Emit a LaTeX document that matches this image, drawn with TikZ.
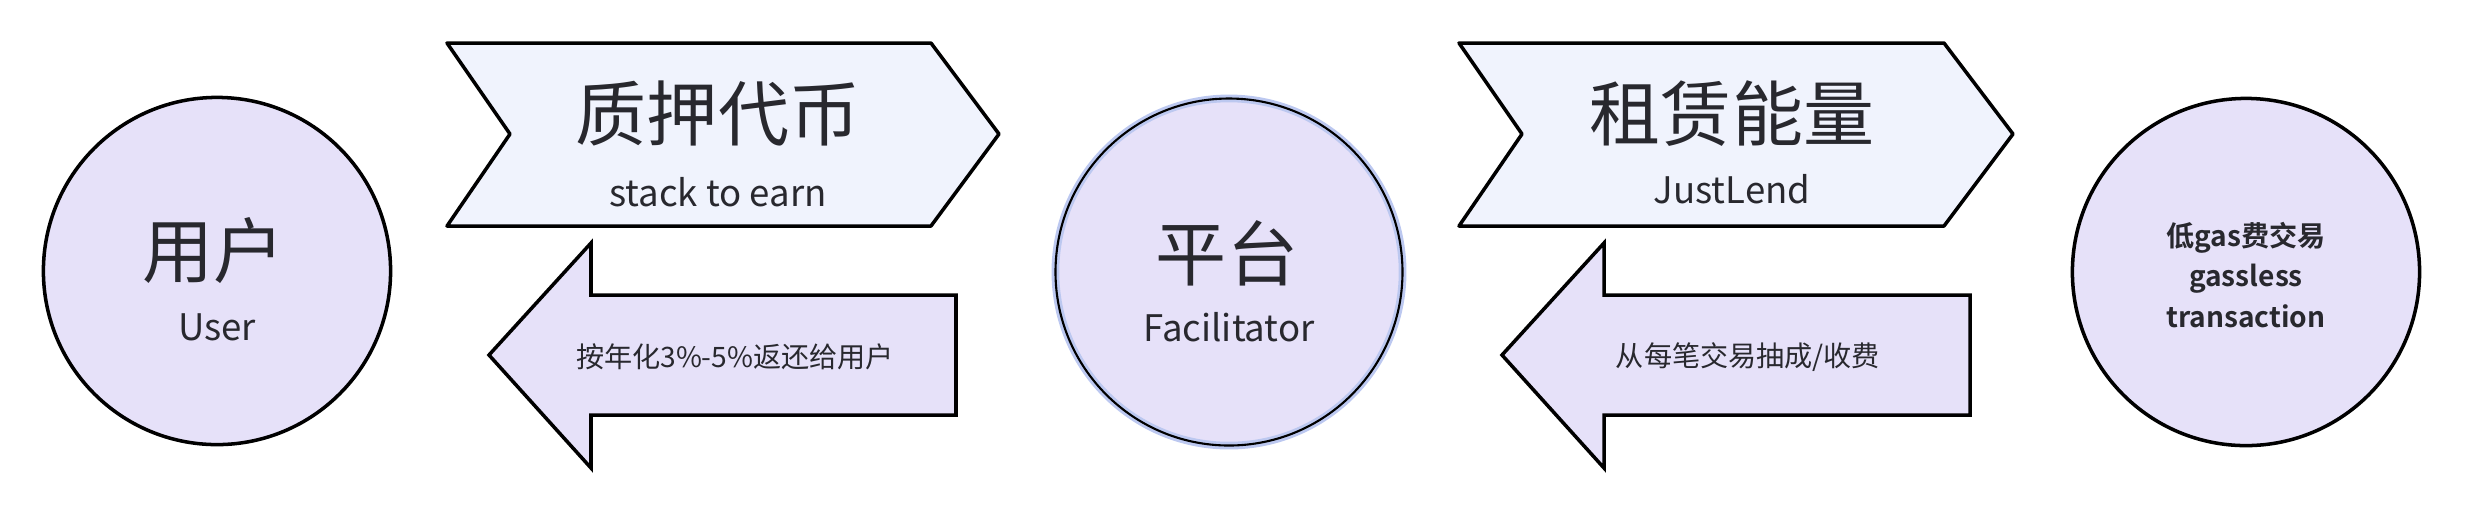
\documentclass[tikz,border=0pt]{standalone}
\usepackage{fontspec}
\setmainfont{Noto Sans CJK SC}[BoldFont={Noto Sans CJK SC Bold}]
\definecolor{mlav}{RGB}{230,225,249}
\definecolor{mpale}{RGB}{240,243,253}
\definecolor{mhalo}{RGB}{188,200,240}
\definecolor{mtext}{RGB}{40,40,46}
\usetikzlibrary{positioning}

\begin{document}
\begin{tikzpicture}[x=0.01cm, y=-0.01cm,
    disc/.style={circle, draw, line width=1pt, fill=mlav, minimum size=3.47cm, inner sep=0pt},
    chev/.style={draw, line width=1pt, line join=round, fill=mpale},
    back/.style={draw, line width=1pt, fill=mlav},
    big/.style={font=\fontsize{20.2}{24}\selectfont, text=mtext, inner sep=0pt},
    sub/.style={font=\fontsize{10.4}{13}\selectfont, text=mtext, inner sep=0pt},
    small/.style={font=\fontsize{8}{9.6}\selectfont, text=mtext, inner sep=0pt},
  ]
    \useasboundingbox (0,0) rectangle (2468,520);

    \node[disc] (user) at (217,271) {};
    \node[disc, draw=mhalo, line width=2.2pt] (plat) at (1229,272) {};
    \draw[line width=0.6pt] (plat.center) circle[radius=173.5];
    \node[disc] (gas) at (2246,272) {};

    \draw[chev] (447,43) -- (931,43) -- (999,134) -- (931,226) -- (447,226) -- (510,134) -- cycle;
    \draw[chev] (1459,43) -- (1944,43) -- (2013,134) -- (1944,226) -- (1459,226) -- (1522,134) -- cycle;
    \draw[back] (489,355) -- (591,243) -- (591,295) -- (956,295) -- (956,415) -- (591,415) -- (591,468) -- cycle;
    \draw[back] (1502,355) -- (1604,243) -- (1604,295) -- (1970,295) -- (1970,415) -- (1604,415) -- (1604,468) -- cycle;

    \node[big]   (userzh) at (214,251)  {用户};
    \node[sub]   (useren) at (217,327)  {User};
    \node[big]   (platzh) at (1227,253) {平台};
    \node[sub]   (platen) at (1229,327) {Facilitator};
    \node[font=\bfseries\fontsize{8}{11.4}\selectfont, text=mtext, align=center, inner sep=0pt]
                 (gastxt) at (2246,275) {低gas费交易\\gassless\\transaction};

    \node[big]   (stakezh) at (718,114)  {质押代币};
    \node[sub]   (stakeen) at (718,192)  {stack to earn};
    \node[big]   (rentzh)  at (1732,114) {租赁能量};
    \node[sub]   (renten)  at (1732,189) {JustLend};
    \node[small] (ret)     at (735,357)  {按年化3\%-5\%返还给用户};
    \node[small] (fee)     at (1748,357) {从每笔交易抽成/收费};
  \end{tikzpicture}
\end{document}
